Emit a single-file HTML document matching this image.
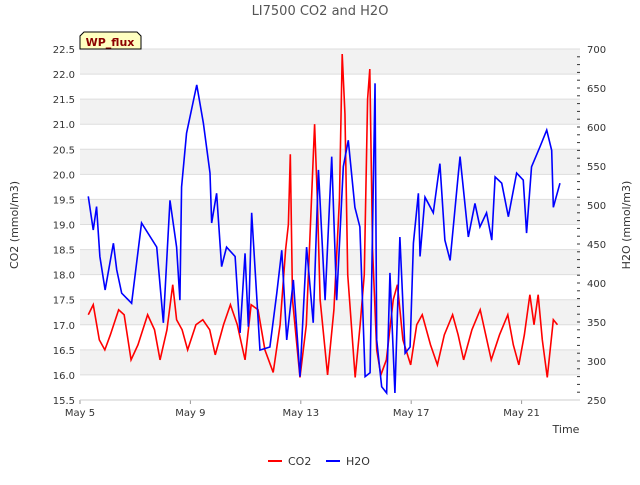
<!DOCTYPE html>
<html><head><meta charset="utf-8"><style>
body{margin:0;background:#fff;font-family:"Liberation Sans","DejaVu Sans",sans-serif}
text{font-family:"DejaVu Sans","Liberation Sans",sans-serif}
</style></head><body>
<svg id="c" width="640" height="480">
<text x="320" y="15" text-anchor="middle" font-size="13" fill="#555">LI7500 CO2 and H2O</text>
<g id="grid"></g><g id="axes"></g><g id="series"></g>
<g><path d="M80,49 L80,36 L84,32 L137,32 L141,36 L141,49 Z" fill="#ffffc0" stroke="#000"/><text x="110" y="46" text-anchor="middle" font-size="11" font-weight="bold" fill="#8b0000">WP_flux</text></g>
<text x="566" y="433" text-anchor="middle" font-size="11" fill="#333">Time</text>
<text transform="translate(18,225) rotate(-90)" text-anchor="middle" font-size="11" fill="#333">CO2 (mmol/m3)</text>
<text transform="translate(630,225) rotate(-90)" text-anchor="middle" font-size="11" fill="#333">H2O (mmol/m3)</text>
<g>
<line x1="268" y1="461" x2="282" y2="461" stroke="red" stroke-width="2"/><text x="288" y="465" font-size="11" fill="#333">CO2</text>
<line x1="326" y1="461" x2="340" y2="461" stroke="blue" stroke-width="2"/><text x="346" y="465" font-size="11" fill="#333">H2O</text>
</g>
</svg>
<script>
const xTickDays=[5,9,13,17,21];
const xTickLabels=["May 5","May 9","May 13","May 17","May 21"];
const co2Days=[5.3,5.48,5.7,5.9,6.1,6.4,6.6,6.85,7.1,7.45,7.7,7.9,8.15,8.36,8.5,8.7,8.9,9.2,9.45,9.7,9.9,10.2,10.45,10.7,10.98,11.2,11.45,11.7,12.0,12.25,12.45,12.55,12.62,12.7,12.97,13.2,13.35,13.5,13.6,13.7,13.97,14.2,14.4,14.5,14.6,14.7,14.97,15.15,15.3,15.42,15.5,15.6,15.75,15.9,16.1,16.35,16.5,16.7,16.98,17.2,17.4,17.7,17.95,18.2,18.5,18.7,18.9,19.2,19.5,19.7,19.9,20.2,20.5,20.7,20.9,21.1,21.3,21.45,21.6,21.75,21.93,22.15,22.3];
const co2Vals=[17.2,17.4,16.7,16.5,16.8,17.3,17.2,16.3,16.6,17.2,16.9,16.3,16.9,17.8,17.1,16.9,16.5,17.0,17.1,16.9,16.4,17.0,17.4,17.0,16.3,17.4,17.3,16.5,16.05,17.0,18.5,19.0,20.4,17.5,15.95,17.0,19.0,21.0,19.5,17.5,16.0,17.3,19.5,22.4,21.2,18.0,15.95,17.0,18.0,21.5,22.1,18.5,16.5,16.0,16.3,17.5,17.8,16.7,16.2,17.0,17.2,16.6,16.2,16.8,17.2,16.8,16.3,16.9,17.3,16.8,16.3,16.8,17.2,16.6,16.2,16.8,17.6,17.0,17.6,16.7,15.95,17.1,17.0];
const h2oDays=[5.30,5.48,5.60,5.72,5.91,6.21,6.33,6.51,6.87,7.23,7.78,8.02,8.26,8.50,8.62,8.68,8.86,9.23,9.47,9.71,9.77,9.95,10.13,10.31,10.62,10.80,10.98,11.10,11.22,11.52,11.88,12.13,12.31,12.49,12.73,12.97,13.21,13.45,13.64,13.88,14.12,14.30,14.54,14.72,14.96,15.14,15.33,15.51,15.69,15.75,15.93,16.11,16.23,16.41,16.59,16.78,16.96,17.08,17.26,17.32,17.50,17.80,18.04,18.22,18.41,18.71,18.77,19.07,19.31,19.49,19.73,19.92,20.04,20.28,20.52,20.82,21.06,21.18,21.36,21.67,21.91,22.09,22.15,22.39];
const h2oVals=[511,468,498,434,391,451,417,387,374,477,446,349,506,446,378,523,592,654,605,541,477,515,421,446,434,336,438,344,490,314,318,387,442,327,404,280,446,349,545,378,562,378,549,583,497,472,280,285,656,327,267,259,413,259,459,310,318,451,515,434,510,490,553,455,429,541,562,459,502,472,490,455,536,528,485,541,532,464,549,575,596,570,497,528];
const leftTicks=[15.5,16,16.5,17,17.5,18,18.5,19,19.5,20,20.5,21,21.5,22,22.5];
const rightTicks=[250,300,350,400,450,500,550,600,650,700];
const X0=80,X1=580,Y0=400,Y1=49;
const xs=d=>X0+(d-5)*27.6;
const yl=v=>Y0-(v-15.5)*(Y0-Y1)/7;
const yr=v=>Y0-(v-250)*(Y0-Y1)/450;
const NS="http://www.w3.org/2000/svg";
function mk(p,t,a){const e=document.createElementNS(NS,t);for(const k in a)e.setAttribute(k,a[k]);p.appendChild(e);return e;}
const grid=document.getElementById('grid'),axes=document.getElementById('axes'),ser=document.getElementById('series');
for(let v=16;v<22.5;v+=1){
 const r=mk(grid,'rect',{x:X0,y:yl(v+0.5),width:X1-X0,height:yl(v)-yl(v+0.5),fill:'#f2f2f2'});
 
 
}
mk(grid,'rect',{x:X0,y:yl(22.5),width:X1-X0,height:yl(22)-yl(22.5),fill:'#f2f2f2'});
leftTicks.forEach(v=>{
 mk(grid,'line',{x1:X0,x2:X1,y1:yl(v),y2:yl(v),stroke:'#ddd'});
 const t=mk(axes,'text',{x:X0-5,y:yl(v)+4,'text-anchor':'end','font-size':10,fill:'#333'});t.textContent=v.toFixed(1);
 
 
});
rightTicks.forEach(v=>{
 const t=mk(axes,'text',{x:X1+7,y:yr(v)+4,'font-size':10,fill:'#333'});t.textContent=v;
 
 
});
for(let v=260;v<700;v+=10){mk(axes,'line',{x1:X1-3,x2:X1,y1:yr(v),y2:yr(v),stroke:'#333'});}
xTickDays.forEach((d,i)=>{
 mk(axes,'line',{x1:xs(d),x2:xs(d),y1:Y0,y2:Y0+4,stroke:'#999'});
 const t=mk(axes,'text',{x:xs(d),y:Y0+16,'text-anchor':'middle','font-size':10,fill:'#333'});t.textContent=xTickLabels[i];
 
 
});
mk(axes,'line',{x1:X0,x2:X1,y1:Y0,y2:Y0,stroke:'#ccc'});
const pc=mk(ser,'polyline',{points:co2Days.map((d,i)=>xs(d)+','+yl(co2Vals[i])).join(' '),fill:'none',stroke:'red','stroke-width':1.6});


const ph=mk(ser,'polyline',{points:h2oDays.map((d,i)=>xs(d)+','+yr(h2oVals[i])).join(' '),fill:'none',stroke:'blue','stroke-width':1.6});


</script>
</body></html>
